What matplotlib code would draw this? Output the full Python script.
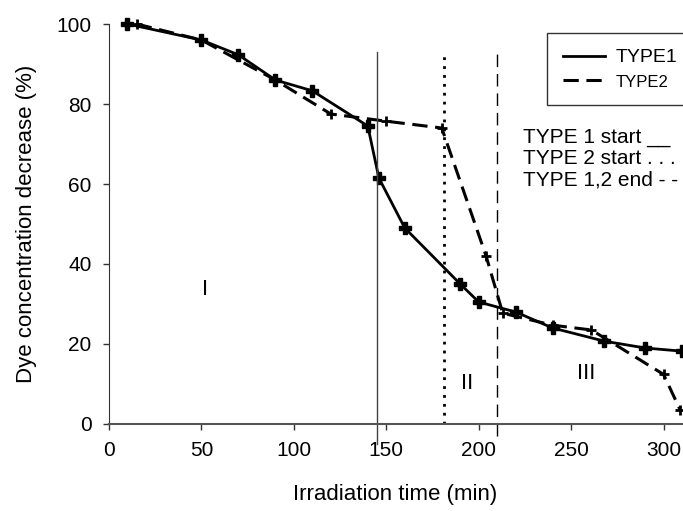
import matplotlib.pyplot as plt

plt.rcParams["font.family"] = ["Liberation Sans", "DejaVu Sans"]

# TYPE1 (solid)
t1_time = [10, 50, 70, 90, 110, 140, 146, 160, 190, 200, 220, 240, 268, 290, 310]
t1_val = [100, 96, 92.3, 86, 83.3, 74.5, 61.5, 49, 35, 30.5, 28, 24, 20.7, 19, 18.2]

# TYPE2 (dashed)
t2_time = [15, 50, 90, 120, 150, 180, 204, 213, 240, 261, 300, 309]
t2_val = [100, 96, 86, 77.5, 75.7, 74, 42, 27.7, 24.7, 23.5, 12.4, 3.5]

# phase boundaries
t1_start = 145
t2_start = 181
end_12 = 210

xticks = [0, 50, 100, 150, 200, 250, 300]
yticks = [0, 20, 40, 60, 80, 100]

fig = plt.figure(figsize=(6.83, 5.11), dpi=100)
ax = fig.add_axes([0.1596, 0.1703, 0.839, 0.7827])

ax.plot(t1_time, t1_val, color="black", linewidth=2, marker="P", markersize=8,
        label="TYPE1", clip_on=False)
ax.plot(t2_time, t2_val, color="black", linewidth=2.2, linestyle=(0, (5, 2.5)),
        marker="+", markersize=7, markeredgewidth=2, label="TYPE2", clip_on=False)

ax.plot([t1_start, t1_start], [-5, 93], color="#444444", linewidth=1, clip_on=False)
ax.plot([t2_start, t2_start], [0, 93], color="black", linewidth=2,
        linestyle=(0, (1, 2.2)), clip_on=False)
ax.plot([end_12, end_12], [-3, 93], color="black", linewidth=1,
        linestyle=(0, (9, 5)), clip_on=False)

ax.set_xlim(0, 310)
ax.set_ylim(0, 100)
ax.set_xticks(xticks)
ax.set_yticks(yticks)
ax.tick_params(direction="out", length=4.5, width=1, pad=8, labelsize=15, color="#333333")
for s in ["top", "right"]:
    ax.spines[s].set_visible(False)
ax.spines["left"].set_color("#333333")
ax.spines["bottom"].set_color("#555555")
ax.spines["bottom"].set_linewidth(1.5)

ax.set_xlabel("Irradiation time (min)", fontsize=16, labelpad=17)
ax.set_ylabel("Dye concentration decrease (%)", fontsize=16, labelpad=14)

ax.text(52, 33.5, "I", fontsize=16, ha="center", va="center")
ax.text(194, 10, "II", fontsize=16, ha="center", va="center")
ax.text(258, 12.7, "III", fontsize=16, ha="center", va="center")

fig.text(0.766, 0.689, "TYPE 1 start __\nTYPE 2 start . . .\nTYPE 1,2 end - -",
         fontsize=15, va="center", ha="left", linespacing=1.15)

leg = ax.legend(loc="upper left", bbox_to_anchor=(0.801, 0.935), bbox_transform=fig.transFigure,
                frameon=True, fancybox=False, fontsize=14, handlelength=2.2,
                borderpad=0.8, handletextpad=0.5, labelspacing=0.35, borderaxespad=0)
leg.get_frame().set_edgecolor("black")
leg.get_frame().set_linewidth(1)
for h in leg.legend_handles:
    h.set_marker("")
leg.get_texts()[1].set_fontsize(12)

fig.savefig("out.png", dpi=100)
